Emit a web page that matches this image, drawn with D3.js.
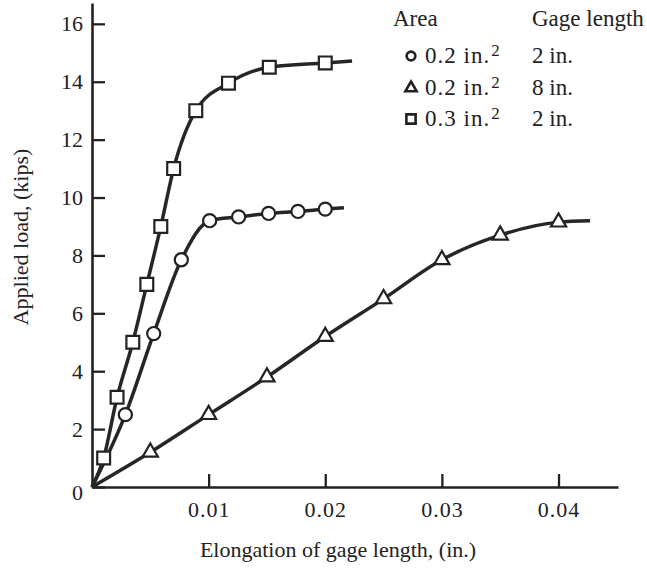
<!DOCTYPE html>
<html><head><meta charset="utf-8">
<script src="https://cdn.jsdelivr.net/npm/d3@7"></script>
<style>body{margin:0;background:#fff}svg{display:block}</style>
</head><body><svg id="c" width="647" height="570"></svg>
<script>
// ---- data ----
const circleX = [0.00286, 0.00529, 0.00766, 0.01009, 0.01257, 0.01514, 0.01766, 0.0200];
const circleY = [2.5, 5.3, 7.85, 9.2, 9.33, 9.45, 9.52, 9.6];
const circleEnd = [0.0216, 9.65];
const triX = [0.005, 0.010, 0.015, 0.020, 0.025, 0.030, 0.035, 0.040];
const triY = [1.2, 2.5, 3.8, 5.2, 6.5, 7.85, 8.7, 9.15];
const triEnd = [0.0427, 9.2];
const sqX = [0.0010, 0.00215, 0.0035, 0.0047, 0.0059, 0.0070, 0.0089, 0.0117, 0.0152, 0.0200];
const sqY = [1.0, 3.1, 5.0, 7.0, 9.0, 11.0, 13.0, 13.95, 14.5, 14.65];
const sqEnd = [0.0223, 14.72];
const xTicks = [0.01, 0.02, 0.03, 0.04];
const yTicks = [0, 2, 4, 6, 8, 10, 12, 14, 16];
const legendArea = ["0.2 in.", "0.2 in.", "0.3 in."];
const legendGage = ["2 in.", "8 in.", "2 in."];
const legendSymbols = ["circle", "triangle", "square"];

// ---- drawing ----
const svg = d3.select("#c");
const FONT = "'Liberation Serif', 'Times New Roman', serif";
const INK = "#222";
const x = d3.scaleLinear().domain([0, 0.0451]).range([92, 618]);
const y = d3.scaleLinear().domain([0, 16.72]).range([487, 3]);

const symType = {circle: d3.symbolCircle, triangle: d3.symbolTriangle, square: d3.symbolSquare};
const symSize = {circle: 135, triangle: 100, square: 165};
const legSize = {circle: 60, triangle: 55, square: 85};

// axes
const yAxis = d3.axisLeft(y).tickValues(yTicks).tickSizeInner(-13).tickSizeOuter(0).tickPadding(9);
const gy = svg.append("g").attr("transform", `translate(${x(0)},0)`).call(yAxis);
const xAxis = d3.axisBottom(x).tickValues(xTicks).tickSizeInner(-13).tickSizeOuter(0).tickPadding(14)
  .tickFormat(d3.format(".2f"));
const gx = svg.append("g").attr("transform", `translate(0,${y(0)})`).call(xAxis);
[gx, gy].forEach(g => {
  g.select(".domain").attr("stroke", INK).attr("stroke-width", 2.6);
  g.selectAll(".tick line").attr("stroke", INK).attr("stroke-width", 2.3);
  g.selectAll("text").attr("font-family", FONT).attr("font-size", 22).attr("fill", INK);
});
gx.selectAll(".tick text").attr("letter-spacing", 1);
gy.selectAll(".tick text").filter(d => d === 0).attr("dy", "0.55em");

// axis titles
svg.append("text").attr("x", 338).attr("y", 557).attr("text-anchor", "middle")
  .attr("font-family", FONT).attr("font-size", 22).attr("fill", INK)
  .text("Elongation of gage length, (in.)");
svg.append("text").attr("transform", "translate(28,237) rotate(-90)").attr("text-anchor", "middle")
  .attr("font-family", FONT).attr("font-size", 22).attr("fill", INK)
  .text("Applied load, (kips)");

// series
const series = [
  {sym: "circle", xs: circleX, ys: circleY, end: circleEnd},
  {sym: "triangle", xs: triX, ys: triY, end: triEnd},
  {sym: "square", xs: sqX, ys: sqY, end: sqEnd}
];
const line = d3.line().x(d => x(d[0])).y(d => y(d[1])).curve(d3.curveMonotoneX);
series.forEach(s => {
  const pts = [[0, 0]].concat(s.xs.map((v, i) => [v, s.ys[i]]), [s.end]);
  svg.append("path").attr("d", line(pts)).attr("fill", "none")
    .attr("stroke", "#262626").attr("stroke-width", 3.5).attr("stroke-linejoin", "round");
});
series.forEach(s => {
  svg.append("g").selectAll("path").data(s.xs.map((v, i) => [v, s.ys[i]])).join("path")
    .attr("transform", d => `translate(${x(d[0])},${y(d[1])})`)
    .attr("d", d3.symbol().type(symType[s.sym]).size(symSize[s.sym]))
    .attr("fill", "#fff").attr("stroke", INK).attr("stroke-width", 2.2);
});

// legend
const lg = svg.append("g").attr("font-family", FONT).attr("font-size", 23).attr("fill", INK);
lg.append("text").attr("x", 393).attr("y", 26).text("Area");
lg.append("text").attr("x", 532).attr("y", 26).text("Gage length");
const rowY = [63, 95, 126];
legendSymbols.forEach((s, i) => {
  lg.append("path").attr("transform", `translate(411,${rowY[i] - 7})`)
    .attr("d", d3.symbol().type(symType[s]).size(legSize[s]))
    .attr("fill", "#fff").attr("stroke", INK).attr("stroke-width", 2.6);
  const t = lg.append("text").attr("x", 425).attr("y", rowY[i]);
  t.append("tspan").attr("letter-spacing", 1).text(legendArea[i]);
  t.append("tspan").attr("dx", 1).attr("dy", -7).attr("font-size", 17).text("2");
  lg.append("text").attr("x", 532).attr("y", rowY[i]).text(legendGage[i]);
});
</script></body></html>
